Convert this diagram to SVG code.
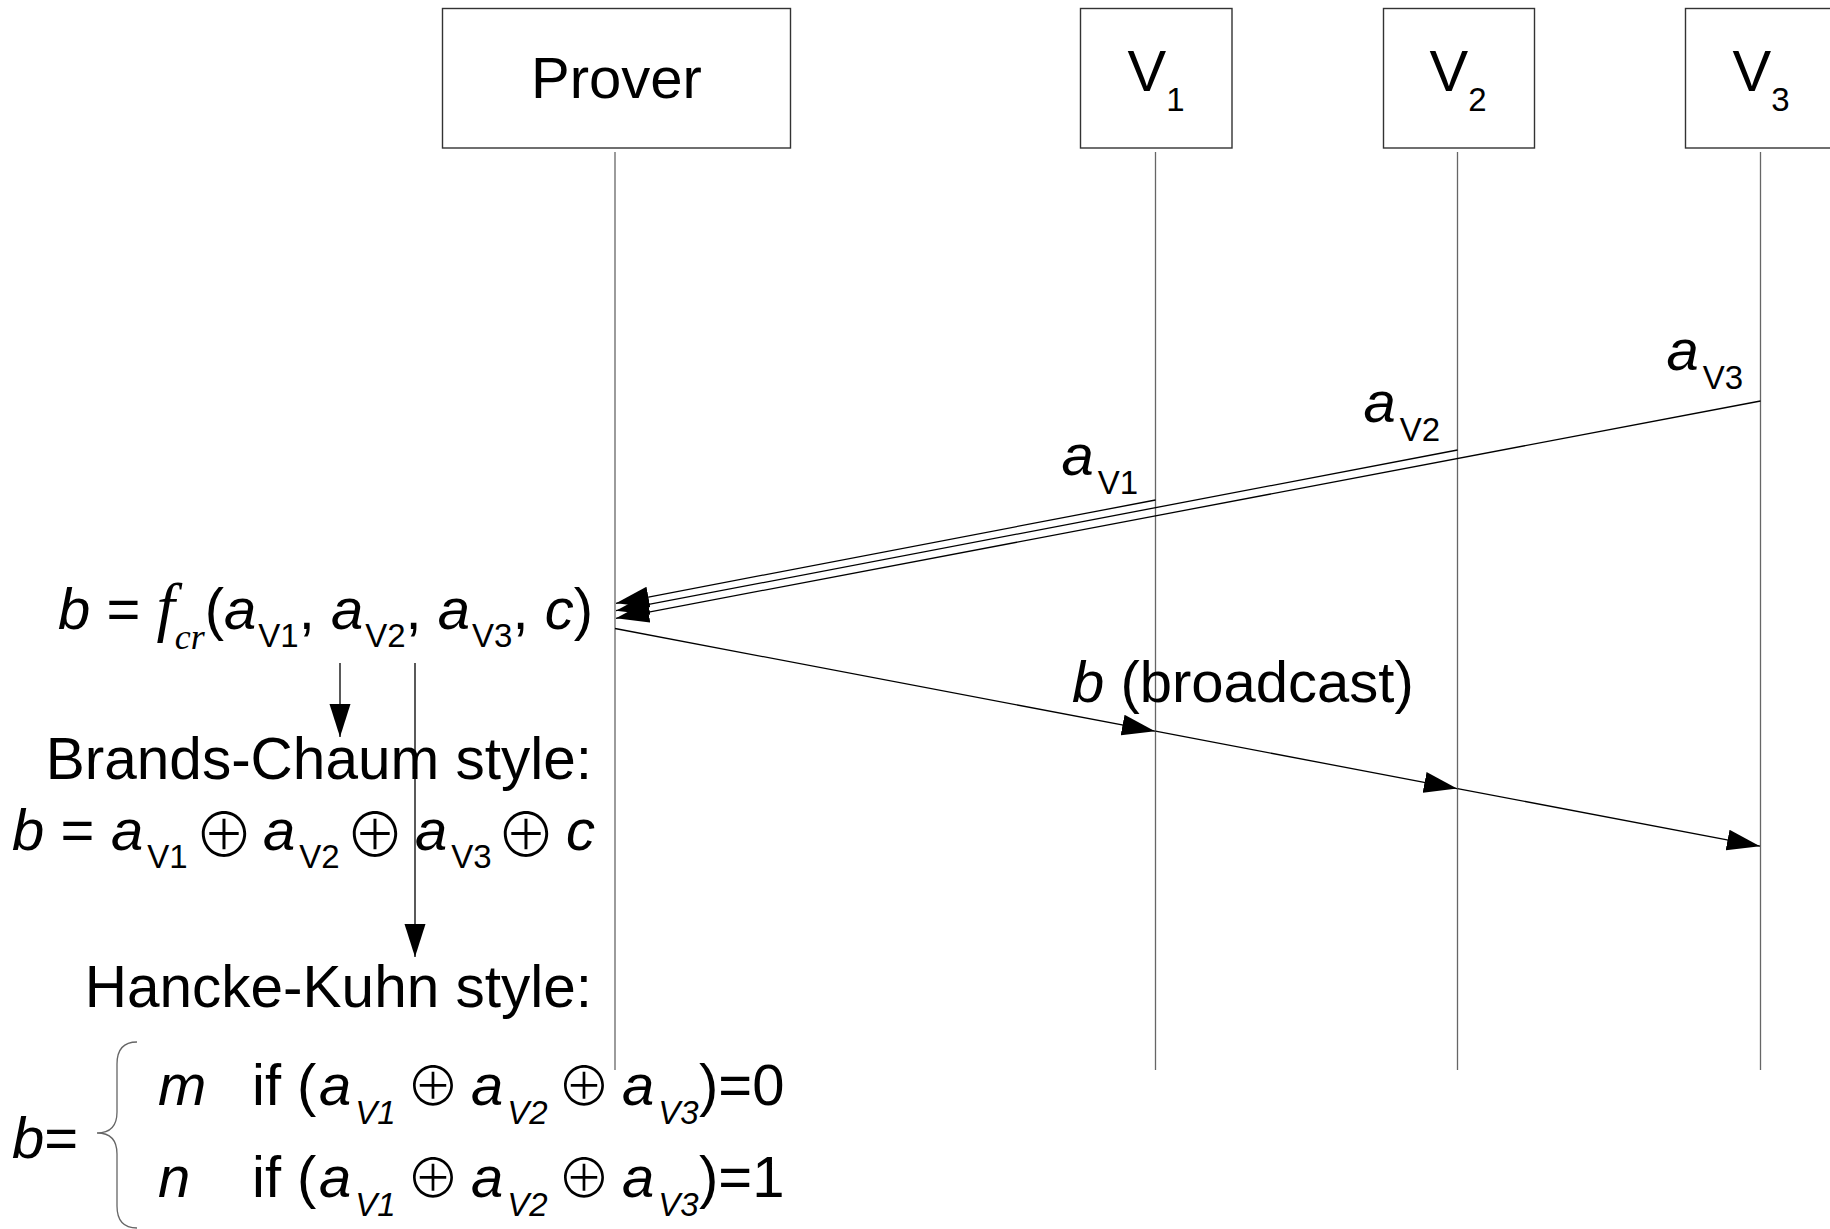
<svg xmlns="http://www.w3.org/2000/svg" width="1830" height="1229" viewBox="0 0 1830 1229">
<style>
.box{fill:#fff;stroke:#333;stroke-width:1.4}
.life{stroke:#666;stroke-width:1.3;fill:none}
.msg{stroke:#000;stroke-width:1.3;fill:none}
.t{font-family:"Liberation Sans",Arial,sans-serif;font-size:58px;fill:#000}
.i{font-style:italic}
.sub{font-size:33px}
.ser{font-family:"Liberation Serif","Times New Roman",serif;font-style:italic}
.op{font-family:"Noto Sans CJK JP","DejaVu Sans",sans-serif;font-size:54px;font-weight:300;fill:#000;text-anchor:middle}
.opb{font-size:60px}
.head{font-size:58.5px}
</style>
<defs>
<marker id="ah" markerWidth="34" markerHeight="22" refX="33" refY="11" orient="auto" markerUnits="userSpaceOnUse">
<path d="M0,0.5 L33,11 L0,21.5 Z" fill="#000"/>
</marker>
</defs>
<rect width="1830" height="1229" fill="#fff"/>

<g id="prover">
<rect class="box" x="442.5" y="8.5" width="348" height="139.5"/>
<text class="t" x="616.5" y="98" text-anchor="middle">Prover</text>
</g>
<g id="v1">
<rect class="box" x="1080.5" y="8.5" width="151.5" height="139.5"/>
<text class="t" x="1156" y="91" text-anchor="middle">V<tspan class="sub" dy="19.5">1</tspan></text>
</g>
<g id="v2">
<rect class="box" x="1383.5" y="8.5" width="151" height="139.5"/>
<text class="t" x="1458" y="91" text-anchor="middle">V<tspan class="sub" dy="19.5">2</tspan></text>
</g>
<g id="v3">
<rect class="box" x="1685.5" y="8.5" width="151" height="139.5"/>
<text class="t" x="1761" y="91" text-anchor="middle">V<tspan class="sub" dy="19.5">3</tspan></text>
</g>

<g id="lifelines">
<line class="life" x1="615" y1="152" x2="615" y2="1070"/>
<line class="life" x1="1155.5" y1="152" x2="1155.5" y2="1070"/>
<line class="life" x1="1457.5" y1="152" x2="1457.5" y2="1070"/>
<line class="life" x1="1760.5" y1="152" x2="1760.5" y2="1070"/>
</g>

<g id="connectors">
<line class="msg" x1="1155.5" y1="500" x2="616" y2="603.3" marker-end="url(#ah)"/>
<line class="msg" x1="1457.5" y1="450" x2="616" y2="610.7" marker-end="url(#ah)"/>
<line class="msg" x1="1760.5" y1="401" x2="616" y2="618.3" marker-end="url(#ah)"/>
<line class="msg" x1="615" y1="628.5" x2="1155" y2="731.2" marker-end="url(#ah)"/>
<line class="msg" x1="1155.5" y1="731.2" x2="1457" y2="788.6" marker-end="url(#ah)"/>
<line class="msg" x1="1457.5" y1="788.6" x2="1760" y2="846.2" marker-end="url(#ah)"/>
<line class="msg" x1="340" y1="663" x2="340" y2="737" marker-end="url(#ah)"/>
<line class="msg" x1="415" y1="663" x2="415" y2="957" marker-end="url(#ah)"/>
</g>

<g id="labels">
<text class="t" x="1666.5" y="370"><tspan class="i">a</tspan><tspan class="sub" dx="4" dy="19">V3</tspan></text>
<text class="t" x="1363.5" y="422"><tspan class="i">a</tspan><tspan class="sub" dx="4" dy="19">V2</tspan></text>
<text class="t" x="1061.5" y="475"><tspan class="i">a</tspan><tspan class="sub" dx="4" dy="19">V1</tspan></text>
<text class="t" x="1072" y="702"><tspan class="i">b</tspan> (broadcast)</text>
</g>

<g id="formula-fcr">
<text class="t" x="593" y="629" text-anchor="end"><tspan class="i">b</tspan> = <tspan class="ser" font-size="66">f</tspan><tspan class="ser" font-size="36" dy="20">cr</tspan><tspan dy="-20">(</tspan><tspan class="i">a</tspan><tspan class="sub" dx="2" dy="18">V1</tspan><tspan dy="-18">, </tspan><tspan class="i">a</tspan><tspan class="sub" dx="2" dy="18">V2</tspan><tspan dy="-18">, </tspan><tspan class="i">a</tspan><tspan class="sub" dx="2" dy="18">V3</tspan><tspan dy="-18">, </tspan><tspan class="i">c</tspan>)</text>
</g>

<g id="brands-chaum">
<text class="t head" x="592" y="779" text-anchor="end">Brands-Chaum style:</text>
<text class="t"><tspan class="i" x="12" y="850">b</tspan> =<tspan class="i" x="111" y="850">a</tspan><tspan class="sub" dx="4" y="868">V1</tspan><tspan class="i" x="263" y="850">a</tspan><tspan class="sub" dx="4" y="868">V2</tspan><tspan class="i" x="415" y="850">a</tspan><tspan class="sub" dx="4" y="868">V3</tspan><tspan class="i" x="566" y="850">c</tspan></text>
<text class="op opb" x="224" y="857">⊕</text>
<text class="op opb" x="375" y="857">⊕</text>
<text class="op opb" x="526" y="857">⊕</text>
</g>

<g id="hancke-kuhn">
<text class="t head" x="592" y="1007" text-anchor="end">Hancke-Kuhn style:</text>
<text class="t i" x="12" y="1158">b<tspan font-style="normal">=</tspan></text>
<path class="life" d="M137,1042 C123,1042 117,1050 117,1064 L117,1112 C117,1126 110,1133 97,1133 C110,1133 117,1140 117,1154 L117,1206 C117,1220 123,1228 137,1228"/>
<text class="t i" x="158" y="1105">m</text>
<text class="t"><tspan x="252" y="1105">if (</tspan><tspan class="i" x="319" y="1105">a</tspan><tspan class="sub i" dx="4" y="1124">V1</tspan><tspan class="i" x="471" y="1105">a</tspan><tspan class="sub i" dx="4" y="1124">V2</tspan><tspan class="i" x="622" y="1105">a</tspan><tspan class="sub i" dx="4" y="1124">V3</tspan><tspan x="699" y="1105">)=0</tspan></text>
<text class="op" x="433" y="1106">⊕</text>
<text class="op" x="584" y="1106">⊕</text>
<text class="t i" x="158" y="1197">n</text>
<text class="t"><tspan x="252" y="1197">if (</tspan><tspan class="i" x="319" y="1197">a</tspan><tspan class="sub i" dx="4" y="1216">V1</tspan><tspan class="i" x="471" y="1197">a</tspan><tspan class="sub i" dx="4" y="1216">V2</tspan><tspan class="i" x="622" y="1197">a</tspan><tspan class="sub i" dx="4" y="1216">V3</tspan><tspan x="699" y="1197">)=1</tspan></text>
<text class="op" x="433" y="1198">⊕</text>
<text class="op" x="584" y="1198">⊕</text>
</g>
</svg>
